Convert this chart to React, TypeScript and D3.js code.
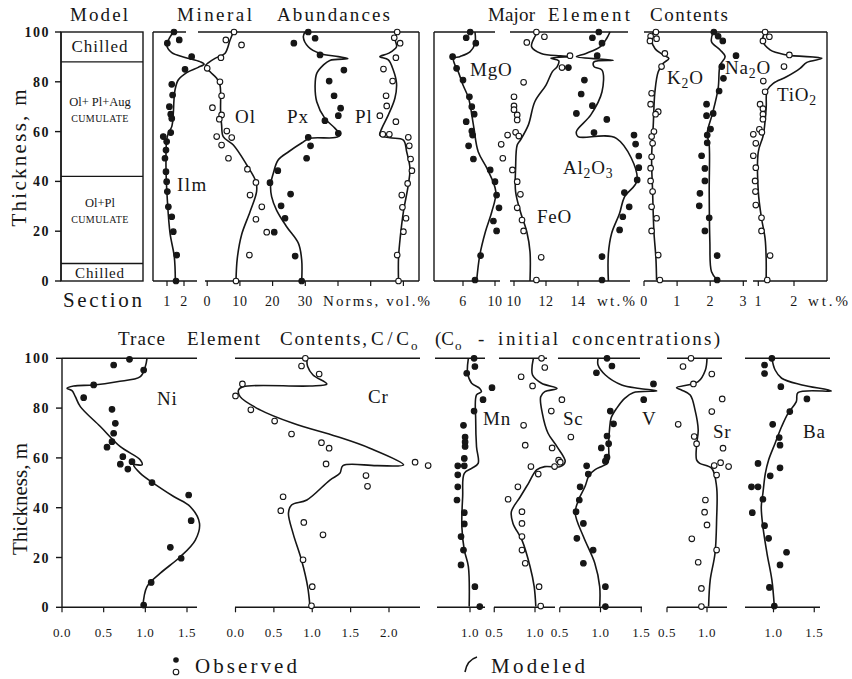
import React from 'react';
import * as d3 from 'd3';

type P = [number, number]; // [value, thickness m]

const thicknessTicks = [0, 20, 40, 60, 80, 100];
const modelBoundaries = [88, 42, 7];

// ---------- Mineral abundances ----------
const ilmModel: P[] = [[1.37,100],[1.14,97.5],[0.98,94.8],[1.28,91.7],[2.06,89.8],[2.94,88.1],[3.18,87.1],[2.84,85.8],[2.16,83.7],[1.66,80.7],[1.47,76.7],[1.41,72.7],[1.37,67.3],[1.28,62],[1.08,59.3],[0.98,56.6],[0.94,45.9],[1.02,32.5],[1.18,19.1],[1.43,9.7],[1.49,0]];
const ilmObs: P[] = [[1.41,100],[1.72,96.8],[1.02,95.5],[2.45,90.1],[2.06,85],[1.28,79],[1.33,74.7],[1.14,70],[1.22,67],[1.28,65.3],[1.22,59.6],[0.78,58],[0.98,56],[0.94,52.6],[0.88,49.3],[0.94,43.9],[0.98,39.9],[1.02,35.9],[1.08,29.8],[1.28,25.8],[1.37,19.8],[1.57,10.4],[1.53,0]];
const olModel: P[] = [[8.0,100],[7.0,96.8],[5.4,91.4],[2.4,89.4],[0.3,87.6],[-0.5,86.5],[0.9,84],[2.9,81.4],[3.9,78.7],[4.1,68],[4.4,62.7],[4.9,58],[8.0,54.6],[12.1,46.6],[14.9,39.9],[15.1,35.9],[13.1,27.8],[10.5,18.5],[9.2,9.1],[8.8,0]];
const olObs: P[] = [[8.2,100],[5.7,96.8],[10.5,94.8],[4.2,89.7],[0,85.4],[3.9,80],[4.4,74.4],[1.6,69.6],[4.4,66.7],[3.7,65],[6.0,60.2],[7.5,57.6],[2.9,58],[4.4,54.6],[6.5,49.3],[12.3,44.9],[14.9,39.6],[13.1,34.5],[16.7,29.8],[14.9,24.8],[18.2,19.6],[12.9,10.4],[8.8,0]];
const pxModel: P[] = [[29.9,100],[29.4,98],[30.9,94.1],[34.5,91.4],[40.1,90.1],[43,89.3],[37.5,88.6],[35.5,86.7],[33.5,83.4],[33.0,78.7],[33.5,72],[36.0,65.3],[39.1,61.3],[40.6,58.6],[39.1,57.6],[31.4,57.3],[29.0,55.5],[25.0,52],[21.7,48.6],[20.2,43.2],[19.4,38.6],[19.7,33.9],[21.2,28.5],[24.3,21.8],[27.9,15.1],[28.9,8.4],[28.9,0]];
const pxObs: P[] = [[30.9,100],[33.0,97.5],[26.5,95.5],[34.5,90.8],[41.8,84.7],[37.3,80.3],[38.8,74.4],[40.8,69.4],[40.1,66.4],[36.0,64.4],[40.1,59.3],[30.9,57.7],[31.6,54.3],[30.4,49.3],[21.6,44.3],[19.2,39.5],[25.5,34.9],[22.6,30.2],[23.8,25.2],[20.5,19.6],[26.9,10],[28.9,0]];
const plModel: P[] = [[58.5,100],[57.4,97.5],[57.9,94.1],[55.4,91.4],[52.8,90.1],[55.4,88.8],[56.9,84.7],[57.9,79.4],[57.4,73.4],[55.4,66.7],[53.4,61.3],[52.8,58.6],[55.9,57.5],[60.0,56.6],[61.0,51.9],[62.0,45.2],[61.5,38.6],[60.0,27.8],[59.0,17.1],[58.5,9.1],[58.5,0]];
const plObs: P[] = [[58.1,100],[57.2,97.7],[59.0,95.5],[57.7,89.7],[53.9,85.1],[56.7,80.3],[54.7,74.4],[54.9,70.3],[52.8,66.4],[57.7,64],[53.7,58.9],[55.7,58.9],[61.5,57.7],[61.8,54.3],[62.2,49],[62.6,44.3],[61.3,39.2],[59.5,34.5],[59.7,29.6],[60.8,25.2],[60.0,19.8],[58.1,10.4],[58.5,0]];

// ---------- Major elements (wt.%) ----------
const mgoModel: P[] = [[7.5,100],[7.5,95.5],[6.9,92.1],[5.6,90.1],[4.8,89.4],[5.0,86.7],[5.4,84.1],[6.0,78.7],[6.7,73.4],[7.3,62.7],[7.9,51.9],[9.0,45.2],[10.1,35.9],[9.6,27.8],[8.8,19.8],[8.1,10.4],[7.7,0]];
const mgoObs: P[] = [[6.9,100],[6.4,97.7],[7.6,95.5],[4.7,90.1],[5.2,85.4],[6.0,80.7],[6.8,74],[7.1,70],[7.4,67],[6.4,64],[7.1,60.2],[7.2,58.6],[6.7,54.3],[7.3,49],[9.4,44.6],[10.0,39.9],[10.2,34.5],[10.5,29.4],[9.8,24.1],[10.2,20.1],[8.2,10.2],[7.5,0.4]];
const feoModel: P[] = [[11.5,100],[11.3,98.1],[11.1,94.1],[11.7,91.4],[12.9,90.4],[13.6,90.1],[12.3,89.5],[12.8,88.4],[12.7,86.1],[12.4,84.1],[12.0,78.7],[11.3,72],[10.9,62.7],[10.4,56.6],[10.2,54.6],[10.1,45.2],[10.1,35.9],[10.4,27.8],[10.8,19.8],[11.0,11.8],[11.0,0]];
const feoObs: P[] = [[11.4,100],[11.9,98.1],[10.8,95.8],[13.5,90.5],[13.0,85.7],[10.6,79.8],[10.0,74],[10.0,70.3],[10.0,68.8],[10.2,66.7],[10.2,64.7],[9.6,58.6],[10.1,59.7],[10.3,58.2],[9.2,54.9],[9.3,49.3],[9.9,44.6],[10.2,39.9],[10.4,34.8],[10.2,29.4],[10.5,24.5],[10.6,20.1],[11.7,9.5],[11.4,0.4]];
const al2o3Model: P[] = [[16.0,100],[15.8,97.5],[15.4,94.1],[14.5,91.4],[13.9,90.1],[16.2,88.7],[15.0,88.0],[15.0,86.1],[15.5,84.7],[15.5,76],[14.8,66.7],[13.9,60],[14.0,58],[16.4,57.3],[17.7,40.6],[16.9,33.7],[16.6,27.2],[16.1,19.1],[15.9,11.1],[15.9,0]];
const al2o3Obs: P[] = [[15.3,100],[14.9,97.7],[15.5,95.5],[15.2,90.5],[13.4,85.7],[14.4,80.7],[14.2,75.1],[14.9,70.4],[13.9,67.3],[15.8,64.9],[15.0,59.6],[17.5,58.6],[17.6,55],[17.8,50.2],[17.8,45.5],[17.7,40.6],[16.9,35.5],[17.2,29.8],[16.8,25.8],[16.6,20.5],[15.5,9.8],[15.5,0.4]];
const k2oModel: P[] = [[0.28,100],[0.23,96.8],[0.33,93.4],[0.58,90.8],[0.75,89.4],[0.58,87.4],[0.43,84],[0.33,76],[0.28,62.7],[0.23,49.3],[0.26,35.9],[0.30,19.8],[0.36,9.1],[0.38,0.4]];
const k2oObs: P[] = [[0.36,100],[0.20,98.3],[0.38,97.3],[0.18,96.4],[0.63,91.4],[0.53,86.1],[0.23,75.4],[0.20,71],[0.43,68],[0.35,67],[0.30,60],[0.23,58],[0.26,55.3],[0.23,49.9],[0.20,45.3],[0.20,40.2],[0.26,35.9],[0.23,29.8],[0.38,25.2],[0.23,20.1],[0.43,10.4],[0.48,0.4]];
const na2oModel: P[] = [[2.09,100],[2.04,96.1],[2.30,92.8],[2.45,90.1],[2.30,86.7],[2.24,77.4],[2.07,67.3],[1.91,59.3],[1.97,54.6],[1.97,35.9],[1.99,15.8],[2.04,3.7],[2.21,0.4]];
const na2oObs: P[] = [[2.11,100],[2.24,98.3],[2.38,96.4],[2.78,90.5],[2.35,86.1],[2.40,81.4],[2.27,76.3],[1.89,71],[2.09,67.3],[1.89,66.4],[2.01,61],[1.91,58.6],[1.91,55.5],[1.74,50.3],[1.84,45.2],[1.84,40.2],[1.69,35.2],[1.67,30.2],[1.97,25.4],[1.84,20.1],[2.21,10.2],[2.21,0.4]];
const tio2Model: P[] = [[1.19,100],[1.12,96.8],[1.33,92.8],[1.79,90.8],[2.78,89.4],[2.36,87.8],[2.17,85.4],[1.79,82],[1.42,79.4],[1.25,76.7],[1.22,69.4],[1.14,58.6],[1.00,51.9],[1.00,35.9],[1.09,25.2],[1.19,17.1],[1.22,9.1],[1.22,0.4]];
const tio2Obs: P[] = [[1.19,100],[1.31,98.1],[1.13,96.4],[1.87,90.8],[1.72,86.1],[1.14,80.3],[1.19,76],[1.05,71],[1.13,69.2],[1.13,67],[1.13,65],[1.03,60.9],[1.10,59.7],[0.86,58.9],[0.93,55.3],[0.86,50.3],[0.93,45.5],[0.91,40.2],[0.92,35.9],[0.93,30.5],[1.09,25.4],[1.09,20.1],[1.33,10.2],[1.25,0.4]];

// ---------- Trace elements, C/Co ----------
const niModel: P[] = [[1.02,100],[1.00,96.7],[0.94,92.6],[0.66,90.6],[0.38,89.3],[0.14,88.9],[0.06,88],[0.12,87],[0.16,84.6],[0.22,80.6],[0.46,72.6],[0.70,64.5],[0.94,59.2],[0.96,57.2],[0.86,57.2],[0.94,53.8],[1.10,49.8],[1.34,44.5],[1.54,40.4],[1.65,33.7],[1.60,27],[1.42,20.3],[1.18,13.7],[1.02,8.3],[0.97,0]];
const niObs: P[] = [[0.81,99.6],[0.62,97.3],[0.98,95.3],[0.38,89.3],[0.26,84.2],[0.60,79.5],[0.64,73.9],[0.62,69.9],[0.60,66.5],[0.54,64.3],[0.73,60.5],[0.70,57.5],[0.84,58.5],[0.79,55.5],[1.08,50.1],[1.52,45.1],[1.55,34.8],[1.30,24.1],[1.43,19.7],[1.07,10],[0.98,0.9]];
const crModel: P[] = [[0.93,100],[0.94,96.7],[1.01,93.3],[1.19,89.7],[0.97,88.9],[0.10,88.6],[0.04,87.3],[0.06,84.6],[0.32,79.3],[0.75,73.9],[1.32,68.6],[1.75,63.9],[2.19,57.2],[1.84,56.9],[1.40,56.9],[1.36,53.8],[1.23,51.1],[0.93,43.1],[0.73,41.1],[0.69,37.8],[0.75,29.7],[0.86,19],[0.94,8.3],[0.97,0.3]];
const crObs: P[] = [[0.91,100],[0.86,96.9],[1.09,93.7],[0.09,89.7],[0.0,84.9],[0.20,79.3],[0.51,74.8],[0.73,69.6],[1.12,66.1],[1.22,63.9],[1.18,57.6],[2.34,58.3],[2.51,56.9],[1.70,52.9],[1.72,48.6],[0.62,44.4],[0.59,38.8],[0.89,34.1],[1.14,29.1],[0.88,19.1],[1.00,8.3],[0.99,0.6]];
const mnModel: P[] = [[0.98,100],[0.97,94],[1.02,90],[1.12,87.9],[1.14,86.6],[1.08,85.3],[1.07,75.2],[1.08,64.5],[1.10,57.8],[1.02,55.8],[0.93,53.8],[0.91,44.4],[0.90,32.4],[0.93,23],[0.98,16.3],[0.99,0.3]];
const mnObs: P[] = [[1.05,100],[1.06,96.7],[0.96,94],[1.27,88.2],[1.16,83.4],[1.05,78.8],[0.92,73.1],[0.94,68.4],[0.94,66.4],[0.94,64.6],[0.93,59.8],[0.85,56.8],[0.93,56.8],[0.85,53.2],[0.85,48.4],[0.84,43.1],[0.93,38],[0.93,33.5],[0.89,28.4],[0.92,23],[0.89,17],[1.06,8.3],[1.12,0.3]];
const scModel: P[] = [[0.98,100],[0.97,93.3],[1.08,90],[1.27,87.9],[1.12,86.6],[1.07,84.6],[1.09,77.9],[1.16,69.9],[1.27,64.5],[1.37,58.5],[1.31,56.5],[1.12,56.5],[1.02,55.2],[0.92,49.8],[0.82,44.4],[0.71,38.4],[0.73,33.7],[0.84,27],[0.94,16.3],[0.99,8.3],[1.01,0.3]];
const scObs: P[] = [[1.08,100],[1.12,96.3],[0.83,92.6],[0.97,88.9],[1.33,83.4],[1.20,78.8],[0.86,73.1],[1.44,68.4],[0.88,65.1],[1.21,64],[1.29,59.1],[1.31,58.3],[0.95,56.5],[1.24,56.5],[1.04,53.5],[0.79,48.4],[0.67,43.4],[0.84,38.4],[0.84,33.7],[0.84,28.4],[0.84,23],[0.88,17.7],[1.05,8.3],[1.07,0.5]];
const vModel: P[] = [[0.97,100],[0.97,97.3],[1.06,93.3],[1.26,89.3],[1.48,87.9],[1.69,86.9],[1.40,86.2],[1.30,84],[1.20,80],[1.13,76],[1.11,71.2],[1.10,65.9],[1.09,58],[1.03,56.8],[0.93,55.2],[0.86,53],[0.81,48.5],[0.73,43.1],[0.69,37.8],[0.79,28.4],[0.93,17.7],[0.99,8.3],[0.99,0.3]];
const vObs: P[] = [[1.08,100],[1.14,96.9],[0.95,94.2],[1.65,89.7],[1.53,83.4],[1.12,78.8],[1.16,73.7],[1.08,68.8],[1.10,65.7],[1.01,64],[1.08,60.3],[1.06,58.7],[0.83,56.8],[0.85,53.5],[0.75,48.4],[0.74,43.1],[0.70,38.4],[0.79,33.7],[0.71,27.7],[0.91,23],[0.79,17.7],[1.06,8.3],[1.06,0.3]];
const srModel: P[] = [[1.00,100],[0.98,95.3],[0.89,90.6],[0.62,88.2],[0.68,87.3],[0.79,85.3],[0.85,79.3],[0.89,71.2],[0.87,65.2],[0.87,59.2],[0.91,57.8],[1.06,55.8],[1.12,48.4],[1.12,35],[1.10,21.6],[1.04,10.9],[1.02,0.3]];
const srObs: P[] = [[0.80,100],[0.70,96.7],[1.06,93.7],[0.83,89.7],[1.19,83.7],[1.06,78.6],[0.64,73.5],[0.84,68.6],[0.87,65.7],[1.20,63.9],[1.17,58.1],[1.09,56.9],[1.27,56.5],[1.12,53.1],[0.98,43.1],[0.97,38.2],[1.00,33.1],[0.81,27.5],[1.12,23],[0.89,18.1],[0.93,7.6],[0.93,0.3]];
const baModel: P[] = [[0.98,100],[1.02,95.3],[1.10,92],[1.35,89.3],[1.71,86.9],[1.30,86.2],[1.28,82.6],[1.18,78],[1.10,72.6],[1.02,65.9],[0.94,59.2],[0.90,53.8],[0.87,45.8],[0.85,40.4],[0.87,32.4],[0.92,21.7],[0.98,11],[1.01,0.3]];
const baObs: P[] = [[0.98,100],[0.89,97.3],[0.89,93.9],[1.09,88.6],[1.41,83.7],[1.20,78.6],[0.99,73.5],[1.07,68.2],[1.08,65.1],[0.81,57.8],[1.08,56],[0.96,52.8],[0.73,48.4],[0.81,48.4],[0.87,43.4],[0.74,38],[0.89,32.8],[0.94,27.7],[1.16,22.1],[1.08,17],[0.95,8],[1.01,0.5]];

// tick labels
const ilmTicks = [1, 2];
const normTicks = [0, 10, 20, 30];
const normTickMarks = [0, 10, 20, 30, 40, 50, 60];
const mgoTicks = [6, 10];
const feAlTicks = [10, 12, 14];
const kNaTicks = [0, 1, 2, 3];
const tiTicks = [1, 2];
const niTicks = [0, 0.5, 1.0, 1.5];
const crTicks = [0, 0.5, 1.0, 1.5, 2.0];
const mnTicks = [1.0];
const scTicks = [0.5, 1.0];
const vTicks = [0.5, 1.0, 1.5];
const srTicks = [0.5, 1.0];
const baTicks = [1.0, 1.5];

const FONT = "'Liberation Serif'";
const INK = '#161616';

// ---------- scales (layout) ----------
const yTop = d3.scaleLinear().domain([0, 100]).range([281, 32]);
const yBot = d3.scaleLinear().domain([0, 100]).range([607.3, 358.3]);
const ilmX = d3.scaleLinear().domain([1, 2]).range([167, 184]);
const normX = d3.scaleLinear().domain([0, 60]).range([207.2, 403.4]);
const mgoX = d3.scaleLinear().domain([6, 10]).range([463, 495]);
const feAlX = d3.scaleLinear().domain([10, 14]).range([514, 578]);
const kNaX = d3.scaleLinear().domain([0, 3]).range([644, 743.3]);
const tiX = d3.scaleLinear().domain([1, 2]).range([758.3, 794]);
const niX = d3.scaleLinear().domain([0, 1.5]).range([62, 187]);
const crX = d3.scaleLinear().domain([0, 2]).range([235.5, 389]);
const mnX = d3.scaleLinear().domain([1, 1.5]).range([470, 510.75]);
const scX = d3.scaleLinear().domain([0.5, 1]).range([494.25, 535]);
const vX = d3.scaleLinear().domain([0.5, 1.5]).range([559.75, 641.25]);
const srX = d3.scaleLinear().domain([0.5, 1]).range([667, 707]);
const baX = d3.scaleLinear().domain([1, 1.5]).range([773.5, 814.25]);

type Sc = d3.ScaleLinear<number, number>;

function T(props: any) {
  const { style, children, ...rest } = props;
  return <text fill={INK} {...rest} style={{ fontFamily: FONT, ...(style || {}) }}>{children}</text>;
}

function Series({ x, y, model, obs, filled }: { x: Sc; y: Sc; model: P[]; obs: P[]; filled: boolean }) {
  const line = d3.line<P>().x(d => x(d[0])).y(d => y(d[1])).curve(d3.curveCatmullRom.alpha(0.5));
  return (
    <g>
      <path d={line(model) ?? ''} fill="none" stroke={INK} strokeWidth={1.6} strokeLinejoin="round" />
      {obs.map((d, i) => (
        <circle key={i} cx={x(d[0])} cy={y(d[1])} r={2.8} fill={filled ? INK : '#fff'} stroke={INK} strokeWidth={1.1} />
      ))}
    </g>
  );
}

function HLine({ x1, x2, y }: { x1: number; x2: number; y: number }) {
  return <line x1={x1} x2={x2} y1={y} y2={y} stroke={INK} strokeWidth={1.4} />;
}

function Ticks({ x, ticks, y, len = 5 }: { x: Sc; ticks: number[]; y: number; len?: number }) {
  return (
    <g>
      {ticks.map((t, i) => (
        <line key={i} x1={x(t)} x2={x(t)} y1={y} y2={y + len} stroke={INK} strokeWidth={1.2} />
      ))}
    </g>
  );
}

function TickLabels({ x, ticks, y, fmt, size = 14 }: { x: Sc; ticks: number[]; y: number; fmt: (v: number) => string; size?: number }) {
  return (
    <g>
      {ticks.map((t, i) => (
        <T key={i} x={x(t)} y={y} textAnchor="middle" fontSize={size} letterSpacing={0.6}>{fmt(t)}</T>
      ))}
    </g>
  );
}

function Sub({ x, y, parts, size = 19 }: { x: number; y: number; parts: [string, boolean][]; size?: number }) {
  let prevSub = false;
  return (
    <T x={x} y={y} fontSize={size} letterSpacing={0.8}>
      {parts.map(([s, sub], i) => {
        const dy = sub && !prevSub ? 4 : !sub && prevSub ? -4 : 0;
        prevSub = sub;
        return <tspan key={i} dy={dy} fontSize={sub ? size * 0.72 : size}>{s}</tspan>;
      })}
    </T>
  );
}

export default function App() {
  const f0 = (v: number) => String(v);
  const f1 = (v: number) => v.toFixed(1);
  const leftAxis = (y: Sc, x0: number) => (
    <g>
      <line x1={x0} x2={x0} y1={y(0)} y2={y(100)} stroke={INK} strokeWidth={1.4} />
      {thicknessTicks.map(t => (
        <g key={t}>
          <line x1={x0 - 6} x2={x0} y1={y(t)} y2={y(t)} stroke={INK} strokeWidth={1.4} />
          <T x={50} y={y(t) + 5} textAnchor="end" fontSize={14} fontWeight="bold" letterSpacing={1.5}>{t}</T>
        </g>
      ))}
    </g>
  );

  return (
    <svg width={852} height={679} viewBox="0 0 852 679" style={{ position: 'absolute', left: 0, top: 0, display: 'block' }}>
      <rect x={0} y={0} width={852} height={679} fill="#fff" />

      {/* ===== headers ===== */}
      <T x={70} y={21} fontSize={19} textLength={58} lengthAdjust="spacing">Model</T>
      <T x={177} y={21} fontSize={19} textLength={75} lengthAdjust="spacing">Mineral</T>
      <T x={277} y={21} fontSize={19} textLength={113} lengthAdjust="spacing">Abundances</T>
      <T x={488} y={21} fontSize={19} textLength={47} lengthAdjust="spacing">Major</T>
      <T x={548} y={21} fontSize={19} textLength={82} lengthAdjust="spacing">Element</T>
      <T x={650} y={21} fontSize={19} textLength={78} lengthAdjust="spacing">Contents</T>

      {/* y axis titles */}
      <T transform="translate(26,158) rotate(-90)" textAnchor="middle" fontSize={21} textLength={137} lengthAdjust="spacing">Thickness, m</T>
      <T transform="translate(27,499) rotate(-90)" textAnchor="middle" fontSize={21} textLength={112} lengthAdjust="spacing">Thickness, m</T>

      {/* ===== Model column ===== */}
      {leftAxis(yTop, 61)}
      <rect x={61} y={yTop(100)} width={82} height={yTop(0) - yTop(100)} fill="none" stroke={INK} strokeWidth={1.4} />
      {modelBoundaries.map(b => <HLine key={b} x1={61} x2={143} y={yTop(b)} />)}
      <T x={100} y={52} textAnchor="middle" fontSize={17} letterSpacing={1}>Chilled</T>
      <T x={100} y={106} textAnchor="middle" fontSize={12.5}>Ol+ Pl+Aug</T>
      <T x={100} y={122} textAnchor="middle" fontSize={10} letterSpacing={0.4}>CUMULATE</T>
      <T x={100} y={207} textAnchor="middle" fontSize={12.5}>Ol+Pl</T>
      <T x={100} y={223} textAnchor="middle" fontSize={10} letterSpacing={0.4}>CUMULATE</T>
      <T x={100} y={278} textAnchor="middle" fontSize={15} letterSpacing={0.8}>Chilled</T>
      <T x={63} y={307} fontSize={21} textLength={79} lengthAdjust="spacing">Section</T>

      {/* ===== Mineral abundances frame ===== */}
      <line x1={153} x2={153} y1={32} y2={281} stroke={INK} strokeWidth={1.4} />
      <line x1={419} x2={419} y1={32} y2={281} stroke={INK} strokeWidth={1.4} />
      <HLine x1={153} x2={186} y={32} />
      <HLine x1={198} x2={419} y={32} />
      <HLine x1={153} x2={197} y={281} />
      <HLine x1={205} x2={419} y={281} />
      <Ticks x={ilmX} ticks={ilmTicks} y={281} />
      <Ticks x={normX} ticks={normTickMarks} y={281} />
      <TickLabels x={ilmX} ticks={ilmTicks} y={306} fmt={f0} />
      <TickLabels x={normX} ticks={normTicks} y={306} fmt={f0} />
      <T x={323} y={306} fontSize={15} textLength={107} lengthAdjust="spacing">Norms, vol.%</T>

      <Series x={ilmX} y={yTop} model={ilmModel} obs={ilmObs} filled />
      <Series x={normX} y={yTop} model={olModel} obs={olObs} filled={false} />
      <Series x={normX} y={yTop} model={pxModel} obs={pxObs} filled />
      <Series x={normX} y={yTop} model={plModel} obs={plObs} filled={false} />
      <T x={235} y={123} fontSize={19} letterSpacing={1}>Ol</T>
      <T x={287} y={123} fontSize={19} letterSpacing={1}>Px</T>
      <T x={355} y={123} fontSize={19} letterSpacing={1}>Pl</T>
      <T x={177} y={191} fontSize={19} letterSpacing={1.5}>Ilm</T>

      {/* ===== Major elements frame ===== */}
      <line x1={434} x2={434} y1={32} y2={281} stroke={INK} strokeWidth={1.4} />
      <line x1={827} x2={827} y1={32} y2={281} stroke={INK} strokeWidth={1.4} />
      <HLine x1={434} x2={495} y={32} />
      <HLine x1={510} x2={628} y={32} />
      <HLine x1={644} x2={827} y={32} />
      <HLine x1={434} x2={500} y={281} />
      <HLine x1={510} x2={630} y={281} />
      <HLine x1={644} x2={747} y={281} />
      <HLine x1={753} x2={827} y={281} />
      <Ticks x={mgoX} ticks={mgoTicks} y={281} />
      <Ticks x={feAlX} ticks={feAlTicks} y={281} />
      <Ticks x={kNaX} ticks={kNaTicks} y={281} />
      <Ticks x={tiX} ticks={tiTicks} y={281} />
      <TickLabels x={mgoX} ticks={mgoTicks} y={306} fmt={f0} />
      <TickLabels x={feAlX} ticks={feAlTicks} y={306} fmt={f0} />
      <TickLabels x={kNaX} ticks={kNaTicks} y={306} fmt={f0} />
      <TickLabels x={tiX} ticks={tiTicks} y={306} fmt={f0} />
      <T x={597} y={306} fontSize={15} textLength={38} lengthAdjust="spacing">wt.%</T>
      <T x={808} y={306} fontSize={15} textLength={40} lengthAdjust="spacing">wt.%</T>

      <Series x={mgoX} y={yTop} model={mgoModel} obs={mgoObs} filled />
      <Series x={feAlX} y={yTop} model={feoModel} obs={feoObs} filled={false} />
      <Series x={feAlX} y={yTop} model={al2o3Model} obs={al2o3Obs} filled />
      <Series x={kNaX} y={yTop} model={k2oModel} obs={k2oObs} filled={false} />
      <Series x={kNaX} y={yTop} model={na2oModel} obs={na2oObs} filled />
      <Series x={tiX} y={yTop} model={tio2Model} obs={tio2Obs} filled={false} />
      <Sub x={470} y={76} parts={[['MgO', false]]} />
      <Sub x={537} y={223} parts={[['FeO', false]]} />
      <Sub x={563} y={174} parts={[['Al', false], ['2', true], ['O', false], ['3', true]]} />
      <Sub x={667} y={84} parts={[['K', false], ['2', true], ['O', false]]} />
      <Sub x={725} y={74} parts={[['Na', false], ['2', true], ['O', false]]} />
      <Sub x={777} y={101} parts={[['TiO', false], ['2', true]]} />

      {/* ===== Trace elements ===== */}
      <T x={118} y={345} fontSize={19} textLength={47} lengthAdjust="spacing">Trace</T>
      <T x={187} y={345} fontSize={19} textLength={73} lengthAdjust="spacing">Element</T>
      <T x={280} y={345} fontSize={19} textLength={87} lengthAdjust="spacing">Contents,</T>
      <T x={371} y={345} fontSize={19} textLength={38} lengthAdjust="spacing">C/C</T>
      <T x={411} y={350} fontSize={13}>o</T>
      <T x={435} y={345} fontSize={19} textLength={19} lengthAdjust="spacing">(C</T>
      <T x={455} y={350} fontSize={13}>o</T>
      <T x={478} y={345} fontSize={19}>-</T>
      <T x={498} y={345} fontSize={19} textLength={60} lengthAdjust="spacing">initial</T>
      <T x={572} y={345} fontSize={19} textLength={148} lengthAdjust="spacing">concentrations)</T>

      {leftAxis(yBot, 62)}
      <HLine x1={62} x2={197} y={358.3} />
      <HLine x1={62} x2={197} y={607.3} />
      <HLine x1={235} x2={420} y={358.3} />
      <HLine x1={235} x2={420} y={607.3} />
      <HLine x1={435} x2={485} y={358.3} />
      <HLine x1={437} x2={485} y={607.3} />
      <HLine x1={499} x2={547} y={358.3} />
      <HLine x1={494} x2={555} y={607.3} />
      <HLine x1={558} x2={640} y={358.3} />
      <HLine x1={560} x2={642} y={607.3} />
      <HLine x1={667} x2={722} y={358.3} />
      <HLine x1={667} x2={727} y={607.3} />
      <HLine x1={745} x2={830} y={358.3} />
      <HLine x1={745} x2={820} y={607.3} />
      <Ticks x={niX} ticks={niTicks} y={607.3} />
      <Ticks x={crX} ticks={crTicks} y={607.3} />
      <Ticks x={mnX} ticks={mnTicks} y={607.3} />
      <Ticks x={scX} ticks={scTicks} y={607.3} />
      <Ticks x={vX} ticks={vTicks} y={607.3} />
      <Ticks x={srX} ticks={srTicks} y={607.3} />
      <Ticks x={baX} ticks={baTicks} y={607.3} />
      <TickLabels x={niX} ticks={niTicks} y={637} fmt={f1} size={13} />
      <TickLabels x={crX} ticks={crTicks} y={637} fmt={f1} size={13} />
      <TickLabels x={mnX} ticks={mnTicks} y={637} fmt={f1} size={13} />
      <TickLabels x={scX} ticks={scTicks} y={637} fmt={f1} size={13} />
      <TickLabels x={vX} ticks={vTicks} y={637} fmt={f1} size={13} />
      <TickLabels x={srX} ticks={srTicks} y={637} fmt={f1} size={13} />
      <TickLabels x={baX} ticks={baTicks} y={637} fmt={f1} size={13} />

      <Series x={niX} y={yBot} model={niModel} obs={niObs} filled />
      <Series x={crX} y={yBot} model={crModel} obs={crObs} filled={false} />
      <Series x={mnX} y={yBot} model={mnModel} obs={mnObs} filled />
      <Series x={scX} y={yBot} model={scModel} obs={scObs} filled={false} />
      <Series x={vX} y={yBot} model={vModel} obs={vObs} filled />
      <Series x={srX} y={yBot} model={srModel} obs={srObs} filled={false} />
      <Series x={baX} y={yBot} model={baModel} obs={baObs} filled />
      <Sub x={157} y={405} parts={[['Ni', false]]} />
      <Sub x={368} y={403} parts={[['Cr', false]]} />
      <Sub x={483} y={425} parts={[['Mn', false]]} />
      <Sub x={563} y={425} parts={[['Sc', false]]} />
      <Sub x={642} y={425} parts={[['V', false]]} />
      <Sub x={713} y={438} parts={[['Sr', false]]} />
      <Sub x={803} y={438} parts={[['Ba', false]]} />

      {/* ===== legend ===== */}
      <circle cx={176} cy={660} r={2.8} fill={INK} />
      <circle cx={176} cy={672} r={2.8} fill="#fff" stroke={INK} strokeWidth={1.1} />
      <T x={195} y={673} fontSize={21} textLength={102} lengthAdjust="spacing">Observed</T>
      <path d="M477,657 Q467,660 465,672" fill="none" stroke={INK} strokeWidth={1.6} />
      <T x={491} y={673} fontSize={21} textLength={94} lengthAdjust="spacing">Modeled</T>
    </svg>
  );
}
